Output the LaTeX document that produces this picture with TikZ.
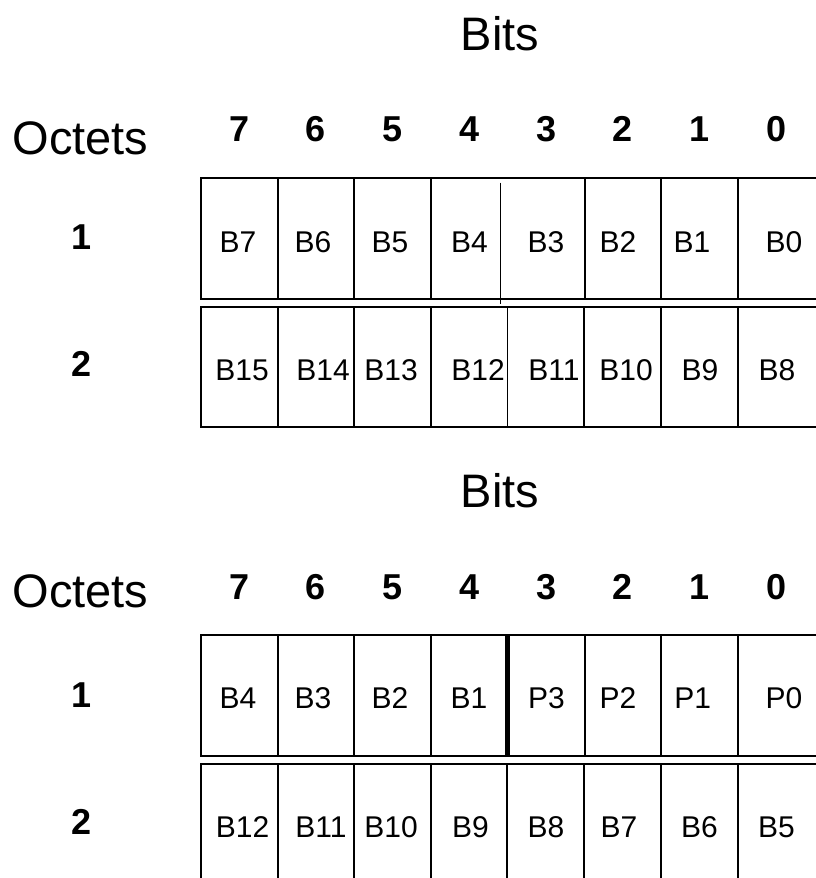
\documentclass[tikz,border=0pt]{standalone}
\usepackage{fontspec}
\setmainfont{Liberation Sans}

\begin{document}
\begin{tikzpicture}[x=1pt,y=-1pt,
    title/.style={anchor=base,font=\fontsize{47}{47}\selectfont},
    num/.style={anchor=base,font=\bfseries\fontsize{36}{36}\selectfont},
    cell/.style={anchor=base,font=\fontsize{30}{30}\selectfont},
    rule/.style={line width=1.8pt}
  ]
  \useasboundingbox (0,0) rectangle (816,878);

  % upper layout
  \node[title] (bitsA) at (500,50.7) {Bits};
  \node[title] (octA) at (80.5,154.3) {Octets};
  \foreach \b [count=\i from 0] in {7,6,5,4,3,2,1,0}
    \node[num] (colA\b) at (239.3+76.7*\i,141.7) {\b};
  \node[num] (rowA1) at (81.5,249) {1};
  \node[num] (rowA2) at (81.5,376.5) {2};

  \draw[rule] (817,178.3) -- (201,178.3) -- (201,299.3) -- (817,299.3);
  \foreach \x in {277.7,354.3,431,585.3,661,737.7} \draw[rule] (\x,178.3) -- (\x,299.3);
  \draw[line width=1.3pt] (500.7,182.7) -- (500.7,304);
  \draw[rule] (817,307) -- (201,307) -- (201,427.3) -- (817,427.3);
  \foreach \x in {277.7,354.3,431,507.5,584.3,661,737.7} \draw[rule] (\x,307) -- (\x,427.3);

  \foreach \t/\x in {B7/238,B6/313,B5/390,B4/469.5,B3/546,B2/618,B1/692,B0/784}
    \node[cell] (a1\t) at (\x,252.2) {\t};
  \foreach \t/\x in {B15/242,B14/323,B13/391,B12/478,B11/554,B10/626,B9/700,B8/777}
    \node[cell] (a2\t) at (\x,380) {\t};

  % lower layout
  \node[title] (bitsB) at (500,507) {Bits};
  \node[title] (octB) at (80.5,607.5) {Octets};
  \foreach \b [count=\i from 0] in {7,6,5,4,3,2,1,0}
    \node[num] (colB\b) at (239.3+76.7*\i,599) {\b};
  \node[num] (rowB1) at (81.5,707) {1};
  \node[num] (rowB2) at (81.5,834.5) {2};

  \draw[rule] (817,635) -- (201,635) -- (201,755.7) -- (817,755.7);
  \foreach \x in {277.7,354.3,431,585,661,737.7} \draw[rule] (\x,635) -- (\x,755.7);
  \draw[line width=5pt] (507,635) -- (507,755.7);
  \draw[rule] (817,764) -- (201,764) -- (201,880);
  \foreach \x in {277.7,354.3,431,507.3,584.3,661,737.7} \draw[rule] (\x,764) -- (\x,880);

  \foreach \t/\x in {B4/238,B3/313,B2/390,B1/469,P3/546.5,P2/618,P1/692.7,P0/784}
    \node[cell] (b1\t) at (\x,708.2) {\t};
  \foreach \t/\x in {B12/242.5,B11/321,B10/391,B9/470.5,B8/546,B7/619,B6/699.5,B5/776.5}
    \node[cell] (b2\t) at (\x,837.3) {\t};
\end{tikzpicture}
\end{document}
